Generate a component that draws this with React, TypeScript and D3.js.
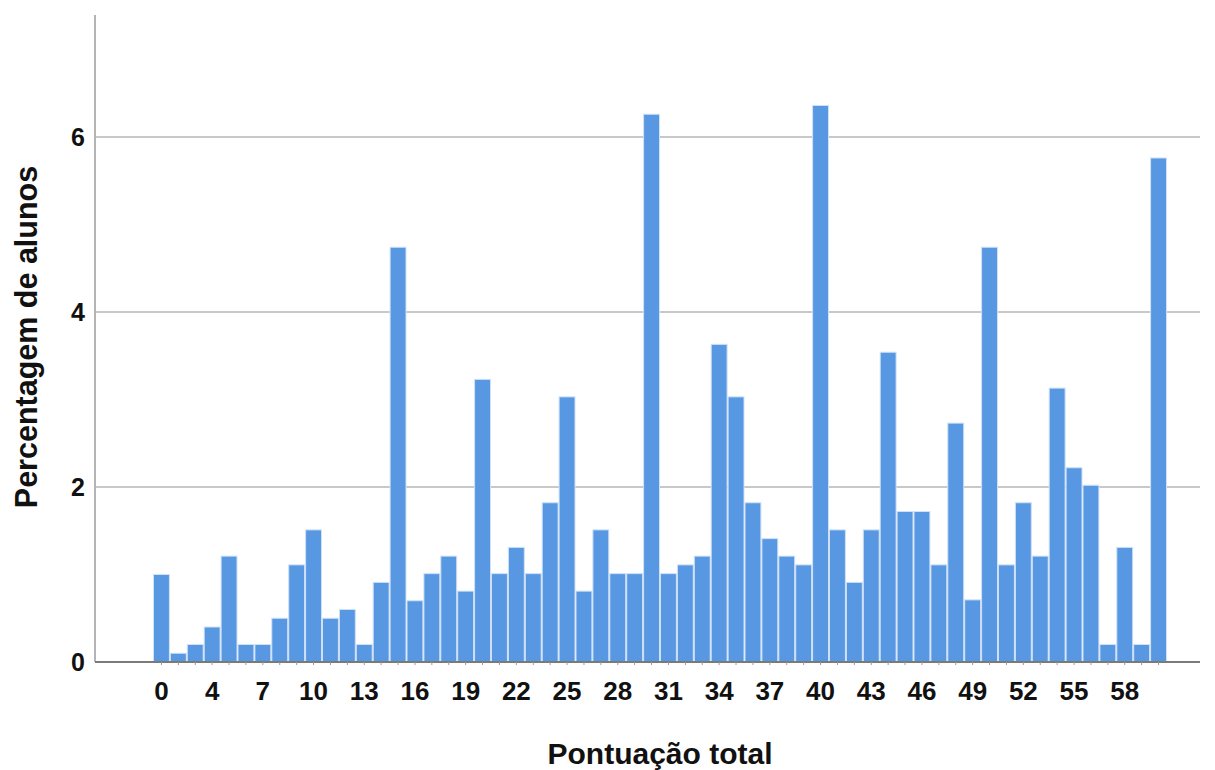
import React from "react";
import * as d3 from "d3";

const scores: number[] = [0, 2, 3, 4, 5, 6, 7, 8, 9, 10, 11, 12, 13, 14, 15, 16, 17, 18, 19, 20, 21, 22, 23, 24, 25, 26, 27, 28, 29, 30, 31, 32, 33, 34, 35, 36, 37, 38, 39, 40, 41, 42, 43, 44, 45, 46, 47, 48, 49, 50, 51, 52, 53, 54, 55, 56, 57, 58, 59, 60];
const percentages: number[] = [1.0, 0.1, 0.2, 0.4, 1.21, 0.2, 0.2, 0.5, 1.11, 1.51, 0.5, 0.6, 0.2, 0.91, 4.74, 0.7, 1.01, 1.21, 0.81, 3.23, 1.01, 1.31, 1.01, 1.82, 3.03, 0.81, 1.51, 1.01, 1.01, 6.26, 1.01, 1.11, 1.21, 3.63, 3.03, 1.82, 1.41, 1.21, 1.11, 6.36, 1.51, 0.91, 1.51, 3.54, 1.72, 1.72, 1.11, 2.73, 0.71, 4.74, 1.11, 1.82, 1.21, 3.13, 2.22, 2.02, 0.2, 1.31, 0.2, 5.76];
const xTickLabels: number[] = [0, 4, 7, 10, 13, 16, 19, 22, 25, 28, 31, 34, 37, 40, 43, 46, 49, 52, 55, 58];
const yTicks: number[] = [0, 2, 4, 6];
const xTitle = "Pontuação total";
const yTitle = "Percentagem de alunos";

export default function App() {
  const W = 1215, H = 770;
  const left = 95, right = 1200, top = 15, bottom = 662;
  const x = d3.scaleBand<number>().domain(scores).range([153, 1167]).padding(0);
  const y = d3.scaleLinear().domain([0, 7.394]).range([bottom, top]);
  const font = "'Liberation Sans', Arial, sans-serif";
  return (
    <svg width={W} height={H} style={{ position: "absolute", left: 0, top: 0, background: "#fff" }}>
      {yTicks.filter(t => t > 0).map(t => (
        <line key={"g" + t} x1={left} x2={right} y1={y(t)} y2={y(t)} stroke="#c8c8c8" strokeWidth={2} />
      ))}
      {scores.map((s, i) => (
        <rect key={s} x={x(s)! + 0.5} y={y(percentages[i])} width={x.bandwidth() - 1} height={bottom - y(percentages[i])}
          fill="#5898e3" stroke="#cfe1f7" strokeWidth={1} />
      ))}
      <line x1={left} x2={left} y1={top} y2={bottom} stroke="#b4b4b4" strokeWidth={2} />
      <line x1={left} x2={right} y1={bottom} y2={bottom} stroke="#7a7a7a" strokeWidth={2} />
      {scores.map(s => (
        <line key={"t" + s} x1={x(s)! + x.bandwidth() / 2} x2={x(s)! + x.bandwidth() / 2} y1={bottom} y2={bottom + 3} stroke="#999" strokeWidth={1} />
      ))}
      {yTicks.map(t => (
        <text key={"y" + t} x={85} y={y(t)} dy="0.36em" textAnchor="end" fontFamily={font} fontWeight="bold" fontSize={25} fill="#111">{t}</text>
      ))}
      {xTickLabels.map(t => (
        <text key={"x" + t} x={x(t)! + x.bandwidth() / 2} y={691} dy="0.36em" textAnchor="middle" fontFamily={font} fontWeight="bold" fontSize={26} fill="#111">{t}</text>
      ))}
      <text x={660} y={753} dy="0.36em" textAnchor="middle" fontFamily={font} fontWeight="bold" fontSize={30} fill="#111">{xTitle}</text>
      <text transform={`translate(26, 337) rotate(-90)`} dy="0.36em" textAnchor="middle" fontFamily={font} fontWeight="bold" fontSize={30.5} fill="#111">{yTitle}</text>
    </svg>
  );
}
